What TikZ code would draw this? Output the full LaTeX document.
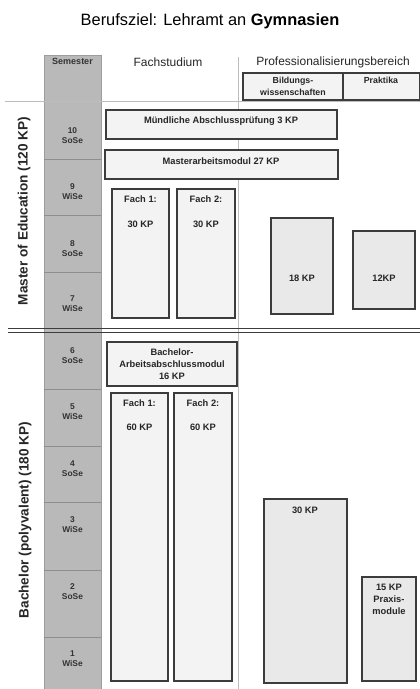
\documentclass[tikz,border=0pt]{standalone}
\usepackage{fontspec}
\setmainfont{Liberation Sans}
\usetikzlibrary{fit}
\definecolor{semgrey}{HTML}{B9B9B9}
\definecolor{semline}{HTML}{8E8E8E}
\definecolor{boxborder}{HTML}{3C3C3C}
\definecolor{boxfill}{HTML}{F3F3F3}
\definecolor{boxfilldark}{HTML}{E9E9E9}
\definecolor{guide}{HTML}{BDBDBD}
\tikzset{
  modbox/.style={draw=boxborder, line width=1.4pt, fill=boxfill, inner sep=0pt},
  darkbox/.style={modbox, fill=boxfilldark},
  boxtxt/.style={font=\fontsize{9.3}{11}\selectfont\bfseries, align=center, inner sep=0pt, text=black!85},
  semtxt/.style={font=\fontsize{8.4}{10}\selectfont\bfseries, align=center, inner sep=0pt, text=black!80},
  headtxt/.style={font=\fontsize{12}{14}\selectfont, inner sep=0pt, text=black!85},
  sidetxt/.style={font=\fontsize{13.6}{15}\selectfont\bfseries, rotate=90, inner sep=0pt, text=black!85},
  guideline/.style={draw=guide, line width=0.8pt},
  semrow/.style={draw=semline, line width=0.7pt},
  dbl/.style={draw=boxborder, line width=1.6pt}
}
\begin{document}
\begin{tikzpicture}[x=1pt,y=-1pt]
\useasboundingbox[fill=white] (0,0) rectangle (420,689);

% title
\node[font=\fontsize{16.4}{19}\selectfont, inner sep=0pt] (title) at (210,21) {Berufsziel: Lehramt an \textbf{Gymnasien}};

% semester column
\node[fill=semgrey, draw=semgrey!85!black, line width=0.5pt, inner sep=0pt, fit={(44,55)(101,689)}] (semcol) {};
\foreach \yy in {159,215,272,389,446,502,570,637} {
  \draw[semrow] (44,\yy) -- (101,\yy);
}

% guide lines
\coordinate (vtop) at (238,57);
\coordinate (vbot) at (238,689);
\draw[guideline] (vtop) -- (vbot);
\coordinate (hl) at (5,101);
\coordinate (hr) at (420,101);
\draw[guideline] (hl) -- (hr);

% headers
\node[semtxt, font=\fontsize{9}{10}\selectfont\bfseries] (semhead) at (72.5,61) {Semester};
\node[headtxt] (fachhead) at (168,62) {Fachstudium};
\node[headtxt] (profhead) at (333,62) {Professionalisierungsbereich};

% sub-header box
\node[modbox, line width=1.3pt, fit={(243,73)(420,100)}] (subhead) {};
\coordinate (subdivtop) at (343,73);
\coordinate (subdivbot) at (343,100);
\draw[draw=boxborder, line width=1.3pt] (subdivtop) -- (subdivbot);
\node[boxtxt, font=\fontsize{8.8}{11.5}\selectfont\bfseries] (bw) at (293,86.5) {Bildungs-\\wissenschaften};
\node[boxtxt, font=\fontsize{8.8}{11.5}\selectfont\bfseries] (pr) at (381,80.5) {Praktika};

% semester labels
\node[semtxt] (s10) at (72.5,136) {10\\SoSe};
\node[semtxt] (s9) at (72.5,192) {9\\WiSe};
\node[semtxt] (s8) at (72.5,249) {8\\SoSe};
\node[semtxt] (s7) at (72.5,304) {7\\WiSe};
\node[semtxt] (s6) at (72.5,356) {6\\SoSe};
\node[semtxt] (s5) at (72.5,412) {5\\WiSe};
\node[semtxt] (s4) at (72.5,469) {4\\SoSe};
\node[semtxt] (s3) at (72.5,525) {3\\WiSe};
\node[semtxt] (s2) at (72.5,592) {2\\SoSe};
\node[semtxt] (s1) at (72.5,659) {1\\WiSe};

% side labels
\node[sidetxt] (master) at (24,211) {Master of Education (120 KP)};
\node[sidetxt] (bachelor) at (25,520) {Bachelor (polyvalent) (180 KP)};

% double separator
\coordinate (d1l) at (8,328.5);
\coordinate (d1r) at (420,328.5);
\coordinate (d2l) at (8,332.3);
\coordinate (d2r) at (420,332.3);
\draw[dbl] (d1l) -- (d1r);
\draw[dbl] (d2l) -- (d2r);

% master boxes
\node[modbox, fit={(106,110)(337,139)}] (muendl) {};
\node[boxtxt] (muendlt) at (221,121) {Mündliche Abschlussprüfung 3 KP};
\node[modbox, fit={(105,150)(338,179)}] (mam) {};
\node[boxtxt] (mamt) at (221,161) {Masterarbeitsmodul 27 KP};
\node[modbox, fit={(112,189)(169,318)}] (mf1) {};
\node[boxtxt] (mf1a) at (140.5,199) {Fach 1:};
\node[boxtxt] (mf1b) at (140.5,224) {30 KP};
\node[modbox, fit={(177,189)(235,318)}] (mf2) {};
\node[boxtxt] (mf2a) at (206,199) {Fach 2:};
\node[boxtxt] (mf2b) at (206,224) {30 KP};
\node[darkbox, fit={(271,218)(333,314)}] (bw18) {};
\node[boxtxt] (bw18t) at (302,278) {18 KP};
\node[darkbox, fit={(353,231)(415,309)}] (pr12) {};
\node[boxtxt] (pr12t) at (384,278) {12KP};

% bachelor boxes
\node[modbox, fit={(107,342)(237,386)}] (bam) {};
\node[boxtxt, font=\fontsize{9.3}{12}\selectfont\bfseries] (bamt) at (172,364) {Bachelor-\\Arbeitsabschlussmodul\\16 KP};
\node[modbox, fit={(111,393)(168,681)}] (bf1) {};
\node[boxtxt] (bf1a) at (139.5,403) {Fach 1:};
\node[boxtxt] (bf1b) at (139.5,427) {60 KP};
\node[modbox, fit={(174,393)(232,681)}] (bf2) {};
\node[boxtxt] (bf2a) at (203,403) {Fach 2:};
\node[boxtxt] (bf2b) at (203,427) {60 KP};
\node[darkbox, fit={(264,499)(347,683)}] (bw30) {};
\node[boxtxt] (bw30t) at (305,510) {30 KP};
\node[darkbox, fit={(362,577)(416,681)}] (pr15) {};
\node[boxtxt, font=\fontsize{9.3}{12}\selectfont\bfseries] (pr15t) at (389,599) {15 KP\\Praxis-\\module};
\end{tikzpicture}
\end{document}
